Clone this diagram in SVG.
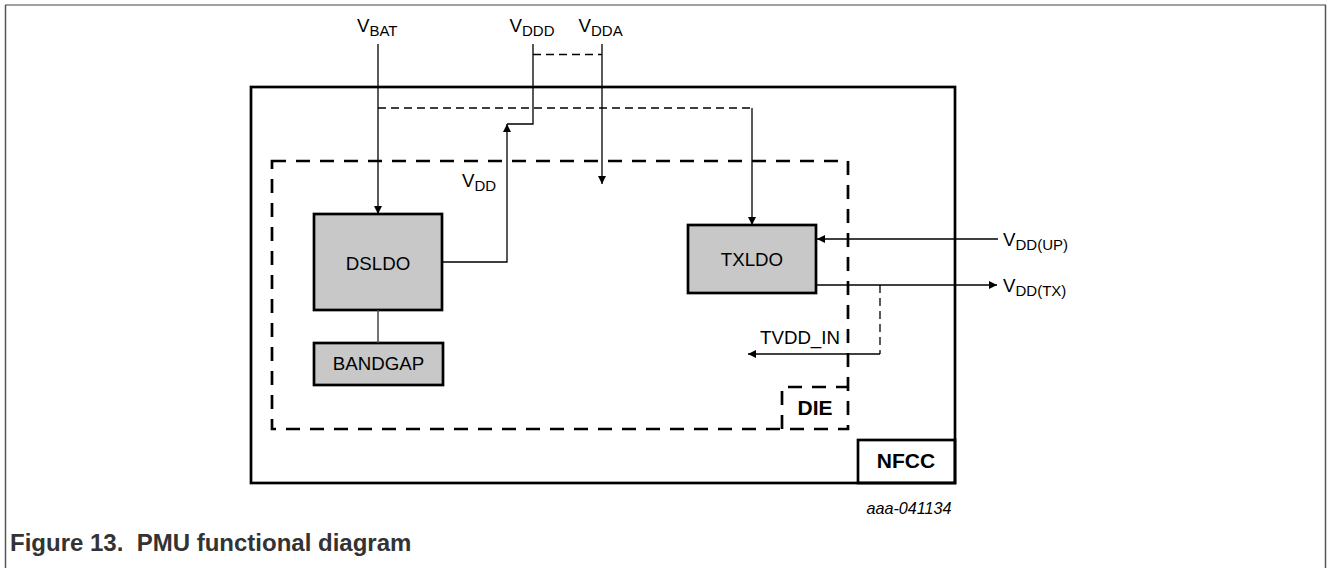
<svg xmlns="http://www.w3.org/2000/svg" width="1328" height="568" viewBox="0 0 1328 568">
<style>
text{font-family:"Liberation Sans",Arial,sans-serif;fill:#000}
.lbl{font-size:18.7px}
.sub{font-size:15px}
.bold{font-size:21px;font-weight:bold}
.box{fill:#c8c8c8;stroke:#000;stroke-width:2.7}
.wire{fill:none;stroke:#000;stroke-width:1.3}
.thin-dash{fill:none;stroke:#000;stroke-width:1.3;stroke-dasharray:8 5}
.die{fill:none;stroke:#000;stroke-width:2.7;stroke-dasharray:14 10}
</style>
<defs>
<marker id="arr" viewBox="0 0 10 10" refX="10" refY="5" markerWidth="9" markerHeight="8" markerUnits="userSpaceOnUse" orient="auto">
<path d="M0,0 L10,5 L0,10 z" fill="#000"/>
</marker>
</defs>
<rect width="1328" height="568" fill="#fff"/>
<g id="frame">
<line x1="5" y1="5" x2="1326" y2="5" stroke="#a0a0a0" stroke-width="2"/>
<line x1="5.5" y1="5" x2="5.5" y2="568" stroke="#555" stroke-width="1.5"/>
<line x1="1325.5" y1="5" x2="1325.5" y2="568" stroke="#555" stroke-width="1.5"/>
</g>
<g id="nfcc">
<rect x="251" y="87" width="704" height="396" fill="none" stroke="#000" stroke-width="2.7"/>
<rect x="858" y="440" width="97" height="43" fill="none" stroke="#000" stroke-width="2.7"/>
<text class="bold" x="906" y="468" text-anchor="middle">NFCC</text>
</g>
<g id="die">
<rect class="die" x="272" y="161" width="576" height="268"/>
<path class="die" d="M782,429 V387 H848"/>
<text class="bold" x="815" y="415" text-anchor="middle">DIE</text>
</g>
<g id="dsldo">
<rect class="box" x="314" y="214" width="128" height="96"/>
<text class="lbl" x="378" y="270" text-anchor="middle">DSLDO</text>
</g>
<g id="bandgap">
<rect class="box" x="314" y="343" width="129" height="42"/>
<text class="lbl" x="378.5" y="370" text-anchor="middle">BANDGAP</text>
</g>
<g id="txldo">
<rect class="box" x="688" y="225" width="128" height="68"/>
<text class="lbl" x="752" y="266" text-anchor="middle">TXLDO</text>
</g>
<g id="labels">
<text class="lbl" x="357" y="32">V<tspan class="sub" dy="4">BAT</tspan></text>
<text class="lbl" x="509.5" y="32">V<tspan class="sub" dy="4">DDD</tspan></text>
<text class="lbl" x="578.5" y="32">V<tspan class="sub" dy="4">DDA</tspan></text>
<text class="lbl" x="462" y="187">V<tspan class="sub" dy="4">DD</tspan></text>
<text class="lbl" x="1003" y="246">V<tspan class="sub" dy="4">DD(UP)</tspan></text>
<text class="lbl" x="1003" y="292">V<tspan class="sub" dy="4">DD(TX)</tspan></text>
<text class="lbl" x="760" y="344">TVDD_IN</text>
</g>
<g id="connectors">
<line class="wire" x1="378" y1="44" x2="378" y2="214" marker-end="url(#arr)"/>
<path class="wire" d="M442,262 H507 V124" marker-end="url(#arr)"/>
<path class="wire" d="M507,124 H533 V44"/>
<line class="wire" x1="602" y1="44" x2="602" y2="184" marker-end="url(#arr)"/>
<line class="thin-dash" x1="533" y1="54.5" x2="602" y2="54.5"/>
<line class="thin-dash" x1="378" y1="108" x2="752" y2="108"/>
<line class="wire" x1="752" y1="108" x2="752" y2="225" marker-end="url(#arr)"/>
<line class="wire" x1="998" y1="239" x2="817" y2="239" marker-end="url(#arr)"/>
<line class="wire" x1="816" y1="285" x2="997" y2="285" marker-end="url(#arr)"/>
<line class="thin-dash" x1="880" y1="285" x2="880" y2="354"/>
<line class="wire" x1="880" y1="354" x2="748" y2="354" marker-end="url(#arr)"/>
<line x1="378" y1="310" x2="378" y2="343" stroke="#444" stroke-width="1.5"/>
</g>
<text x="909" y="514" text-anchor="middle" style="font-size:16.2px;font-style:italic">aaa-041134</text>
<text x="10" y="551" xml:space="preserve" style="font-size:24px;font-weight:bold;fill:#333">Figure 13.  PMU functional diagram</text>
</svg>
